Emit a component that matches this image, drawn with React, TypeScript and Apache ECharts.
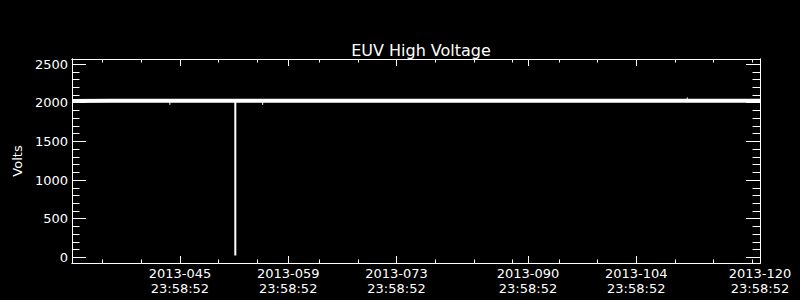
import React, { useEffect, useRef } from "react";
import * as echarts from "echarts";

// ---- data ----
const X_MIN = 31.045; // day-of-year 2013 at the left edge
const X_MAX = 120; // day-of-year 2013 at the right edge
const Y_MIN = -72;
const Y_MAX = 2565;

const majorDays = [45, 59, 73, 90, 104, 120];
const minorDays = [35, 40, 50, 55, 63, 68, 78, 83, 88, 94, 99, 109, 114, 119];
const tickTime = "23:58:52";
const tickYear = "2013";

const yMajor = [0, 500, 1000, 1500, 2000, 2500];
const yMinor = [
  100, 200, 300, 400, 600, 700, 800, 900, 1100, 1200, 1300, 1400, 1600, 1700,
  1800, 1900, 2100, 2200, 2300, 2400,
];

// main voltage trace (day-of-year, volts)
const bandDays = [31.05, 36, 40, 43.7, 48, 52.1, 52.22, 55.7, 62, 70, 78, 86, 94, 102, 110.6, 116, 120];
const bandVolts = [2022, 2024, 2025, 2024, 2025, 2025, 2025, 2024, 2025, 2025, 2024, 2025, 2025, 2024, 2025, 2025, 2024];

// the dropout
const spikeDay = 52.16;
const spikeTop = 2025;
const spikeLow = 25;

// small glitches
const blipDays = [43.7, 55.7, 110.6];
const blipVolts = [1972, 1972, 2068];

const WHITE = "#ffffff";
const FONT = "DejaVu Sans";

export default function App() {
  const ref = useRef<HTMLDivElement>(null);

  useEffect(() => {
    document.body.style.margin = "0";
    document.body.style.background = "#000";
    if (!ref.current) return;
    const chart = echarts.init(ref.current, undefined, { renderer: "svg" });

    const lineStyle = { color: WHITE, width: 1 };
    const xAxisBase = (position: "top" | "bottom", ticks: number[], len: number, labels: boolean) => ({
      type: "value",
      position,
      min: X_MIN,
      max: X_MAX,
      axisLine: { show: true, onZero: false, lineStyle },
      splitLine: { show: false },
      axisTick: { show: true, inside: true, length: len, customValues: ticks, lineStyle },
      axisLabel: labels
        ? {
            show: true,
            customValues: ticks,
            color: WHITE,
            fontFamily: FONT,
            fontSize: 13,
            lineHeight: 15,
            margin: 3,
            formatter: (v: number) =>
              `${tickYear}-${String(Math.round(v)).padStart(3, "0")}\n${tickTime}`,
          }
        : { show: false },
    });
    const yAxisBase = (position: "left" | "right", ticks: number[], len: number, labels: boolean, name?: string) => ({
      type: "value",
      position,
      min: Y_MIN,
      max: Y_MAX,
      name: name,
      nameLocation: "middle",
      nameGap: 46,
      nameTextStyle: { color: WHITE, fontFamily: FONT, fontSize: 13 },
      axisLine: { show: true, onZero: false, lineStyle },
      splitLine: { show: false },
      axisTick: { show: true, inside: true, length: len, customValues: ticks, lineStyle },
      axisLabel: labels
        ? {
            show: true,
            customValues: ticks,
            color: WHITE,
            fontFamily: FONT,
            fontSize: 13,
            margin: 4,
            formatter: (v: number) => String(Math.round(v)),
          }
        : { show: false },
    });

    const blipSeries = blipDays.map((d, i) => ({
      type: "line",
      xAxisIndex: 0,
      yAxisIndex: 0,
      symbol: "none",
      lineStyle: { color: WHITE, width: 1 },
      data: [
        [d, spikeTop],
        [d, blipVolts[i]],
      ],
      z: 3,
    }));

    chart.setOption({
      animation: false,
      backgroundColor: "#000000",
      title: {
        text: "EUV High Voltage",
        left: 416,
        top: 37,
        textAlign: "center",
        textStyle: { color: WHITE, fontFamily: FONT, fontSize: 16, fontWeight: "normal" },
      },
      grid: { left: 72, top: 59, right: 40, bottom: 37, containLabel: false, outerBoundsMode: "none" },
      xAxis: [
        xAxisBase("bottom", majorDays, 7, true),
        xAxisBase("bottom", minorDays, 3.5, false),
        xAxisBase("top", majorDays, 7, false),
        xAxisBase("top", minorDays, 3.5, false),
      ],
      yAxis: [
        yAxisBase("left", yMajor, 14, true, "Volts"),
        yAxisBase("left", yMinor, 7.5, false),
        yAxisBase("right", yMajor, 14, false),
        yAxisBase("right", yMinor, 7.5, false),
      ],
      series: [
        {
          type: "line",
          xAxisIndex: 0,
          yAxisIndex: 0,
          symbol: "none",
          lineStyle: { color: WHITE, width: 4 },
          data: bandDays.map((d, i) => [d, bandVolts[i]]),
          z: 2,
        },
        {
          type: "line",
          xAxisIndex: 0,
          yAxisIndex: 0,
          symbol: "none",
          lineStyle: { color: WHITE, width: 2 },
          data: [
            [spikeDay, spikeTop],
            [spikeDay, spikeLow],
          ],
          z: 3,
        },
        ...blipSeries,
      ],
    });

    return () => chart.dispose();
  }, []);

  return <div ref={ref} style={{ width: 800, height: 300, background: "#000" }} />;
}
